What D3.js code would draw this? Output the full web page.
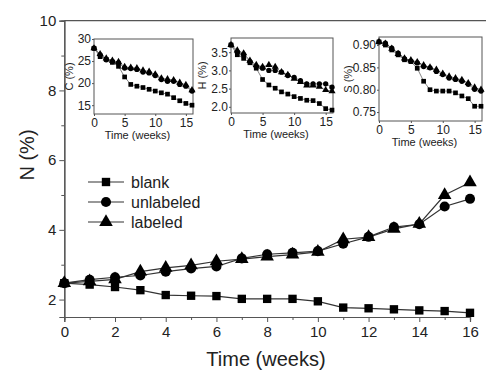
<!DOCTYPE html>
<html>
<head>
<meta charset="utf-8">
<script src="https://cdn.jsdelivr.net/npm/d3@7"></script>
<style>
  body { margin: 0; background: #fff; }
  svg { display: block; font-family: "Liberation Sans", Arial, sans-serif; }
</style>
</head>
<body>
<svg id="chart" width="486" height="372"></svg>
<script>
// weeks 0..16
const weeks = d3.range(0, 17);

// main panel: N (%)
const nBlank = [2.47, 2.43, 2.36, 2.27, 2.13, 2.11, 2.10, 2.02, 2.02, 2.02, 1.95, 1.77, 1.75, 1.72, 1.69, 1.67, 1.62];
const nUnlabeled = [2.47, 2.57, 2.64, 2.69, 2.80, 2.89, 2.95, 3.18, 3.30, 3.34, 3.39, 3.60, 3.80, 4.08, 4.16, 4.67, 4.89];
const nLabeled = [2.47, 2.52, 2.58, 2.80, 2.91, 2.98, 3.10, 3.16, 3.23, 3.29, 3.37, 3.73, 3.79, 4.03, 4.17, 5.00, 5.36];

// inset C (%)
const cBlank = [27.9, 26.0, 25.4, 24.7, 23.8, 21.4, 19.7, 19.3, 19.0, 18.6, 18.2, 17.8, 17.5, 16.7, 16.0, 15.4, 15.0];
const cUnlabeled = [27.9, 26.4, 25.3, 24.9, 24.6, 23.4, 23.3, 23.1, 22.5, 22.3, 21.7, 20.8, 20.4, 20.4, 19.7, 19.3, 18.2];
const cLabeled = [27.9, 26.6, 25.6, 25.1, 24.8, 23.7, 23.5, 23.4, 22.9, 22.6, 22.0, 21.1, 20.9, 20.7, 20.1, 19.6, 18.4];

// inset H (%)
const hBlank = [3.70, 3.43, 3.33, 3.21, 3.06, 2.75, 2.60, 2.51, 2.41, 2.35, 2.28, 2.23, 2.18, 2.17, 2.09, 1.95, 1.91];
const hUnlabeled = [3.70, 3.50, 3.43, 3.24, 3.10, 3.06, 3.00, 3.00, 2.95, 2.86, 2.81, 2.72, 2.63, 2.63, 2.63, 2.63, 2.54];
const hLabeled = [3.70, 3.55, 3.47, 3.27, 3.15, 3.10, 3.15, 3.10, 2.95, 2.88, 2.77, 2.68, 2.59, 2.59, 2.55, 2.46, 2.43];

// inset S (%)
const sBlank = [0.907, 0.900, 0.889, 0.878, 0.867, 0.863, 0.848, 0.819, 0.800, 0.797, 0.797, 0.797, 0.793, 0.786, 0.780, 0.763, 0.763];
const sUnlabeled = [0.907, 0.904, 0.893, 0.882, 0.869, 0.864, 0.860, 0.852, 0.849, 0.841, 0.834, 0.826, 0.823, 0.819, 0.812, 0.801, 0.797];
const sLabeled = [0.907, 0.903, 0.892, 0.880, 0.870, 0.866, 0.862, 0.855, 0.850, 0.845, 0.836, 0.830, 0.826, 0.822, 0.815, 0.805, 0.800];

const seriesNames = ['blank', 'unlabeled', 'labeled'];
const symbolFor = { blank: d3.symbolSquare, unlabeled: d3.symbolCircle, labeled: d3.symbolTriangle };

const svg = d3.select('#chart');
const lineCol = '#333';
const frameCol = '#555';

// ---- main panel ----
const x = d3.scaleLinear().domain([0, 16]).range([64.3, 470]);
const y = d3.scaleLinear().domain([1.5, 10]).range([317, 20.7]);

// frame (right side runs off the picture)
svg.append('path')
  .attr('d', `M${x(0)},${y(10)}H490V${y(1.5)}`)
  .attr('fill', 'none').attr('stroke', frameCol).attr('stroke-width', 1.2);

const xAxis = svg.append('g')
  .attr('transform', `translate(0,${y(1.5)})`)
  .call(d3.axisBottom(x).tickValues(d3.range(0, 17, 2)).tickSize(5).tickPadding(4));
svg.append('g')
  .attr('transform', `translate(0,${y(1.5)})`)
  .call(d3.axisBottom(x).tickValues(d3.range(1, 17, 2)).tickSize(3).tickFormat(''));

const yAxis = svg.append('g')
  .attr('transform', `translate(${x(0)},0)`)
  .call(d3.axisLeft(y).tickValues([2, 4, 6, 8, 10]).tickSize(5).tickPadding(3));
svg.append('g')
  .attr('transform', `translate(${x(0)},0)`)
  .call(d3.axisLeft(y).tickValues([3, 5, 7, 9]).tickSize(3).tickFormat(''));

svg.selectAll('.domain').attr('stroke', frameCol).attr('stroke-width', 1.2);
svg.selectAll('.tick line').attr('stroke', frameCol);
xAxis.selectAll('text').style('font-size', '15px').attr('fill', '#222');
yAxis.selectAll('text').style('font-size', '15px').attr('fill', '#222');

svg.append('text')
  .attr('x', 266).attr('y', 366)
  .attr('text-anchor', 'middle')
  .style('font-size', '20px').attr('fill', '#222')
  .text('Time (weeks)');
svg.append('text')
  .attr('transform', 'translate(34,155) rotate(-90)')
  .attr('text-anchor', 'middle')
  .style('font-size', '20px').attr('fill', '#222')
  .text('N (%)');

const mainData = { blank: nBlank, unlabeled: nUnlabeled, labeled: nLabeled };
const mainLine = d3.line().x((d, i) => x(weeks[i])).y(d => y(d));

seriesNames.forEach(name => {
  svg.append('path')
    .datum(mainData[name])
    .attr('d', mainLine)
    .attr('fill', 'none').attr('stroke', lineCol).attr('stroke-width', 1.2);
});
seriesNames.forEach(name => {
  const sz = name === 'labeled' ? 80 : (name === 'blank' ? 70 : 80);
  svg.append('g').selectAll('path')
    .data(mainData[name])
    .join('path')
    .attr('transform', (d, i) => `translate(${x(weeks[i])},${y(d)})`)
    .attr('d', d3.symbol(symbolFor[name], sz))
    .attr('fill', '#000');
});

// legend
const legend = svg.append('g');
seriesNames.forEach((name, i) => {
  const ly = 182 + i * 20;
  legend.append('line')
    .attr('x1', 88).attr('x2', 124).attr('y1', ly).attr('y2', ly)
    .attr('stroke', lineCol).attr('stroke-width', 1.2);
  legend.append('path')
    .attr('transform', `translate(106,${ly})`)
    .attr('d', d3.symbol(symbolFor[name], name === 'blank' ? 70 : 80))
    .attr('fill', '#000');
  legend.append('text')
    .attr('x', 131).attr('y', ly + 6)
    .style('font-size', '16px').attr('fill', '#222')
    .text(name);
});

// ---- insets ----
const insets = [
  { label: 'C (%)', box: [94, 193, 39, 114], dom: [13, 30], ticks: [15, 20, 25, 30], fmt: d3.format('d'),
    data: { blank: cBlank, unlabeled: cUnlabeled, labeled: cLabeled }, labX: 73 },
  { label: 'H (%)', box: [231, 333, 38, 113], dom: [1.83, 3.89], ticks: [2.0, 2.5, 3.0, 3.5], fmt: d3.format('.1f'),
    data: { blank: hBlank, unlabeled: hUnlabeled, labeled: hLabeled }, labX: 206 },
  { label: 'S (%)', box: [379, 482, 37, 121], dom: [0.73, 0.918], ticks: [0.75, 0.80, 0.85, 0.90], fmt: d3.format('.2f'),
    data: { blank: sBlank, unlabeled: sUnlabeled, labeled: sLabeled }, labX: 352 }
];

insets.forEach(ins => {
  const [x0, x1, y0, y1] = ins.box;
  const g = svg.append('g');
  const ix = d3.scaleLinear().domain([0, 16]).range([x0, x1 - 1]);
  const iy = d3.scaleLinear().domain(ins.dom).range([y1, y0]);

  g.append('rect')
    .attr('x', x0).attr('y', y0).attr('width', x1 - x0).attr('height', y1 - y0)
    .attr('fill', '#fff').attr('stroke', frameCol).attr('stroke-width', 1);

  const ax = g.append('g')
    .attr('transform', `translate(0,${y1})`)
    .call(d3.axisBottom(ix).tickValues([0, 5, 10, 15]).tickSize(2).tickPadding(2));
  const ay = g.append('g')
    .attr('transform', `translate(${x0},0)`)
    .call(d3.axisLeft(iy).tickValues(ins.ticks).tickFormat(ins.fmt).tickSize(2).tickPadding(1));
  [ax, ay].forEach(a => {
    a.select('.domain').remove();
    a.selectAll('.tick line').attr('stroke', frameCol);
    a.selectAll('text').style('font-size', '12px').attr('fill', '#222');
  });

  g.append('text')
    .attr('x', (x0 + x1) / 2 - 6).attr('y', y1 + 25)
    .attr('text-anchor', 'middle')
    .style('font-size', '11px').attr('fill', '#222')
    .text('Time (weeks)');
  g.append('text')
    .attr('transform', `translate(${ins.labX},${(y0 + y1) / 2}) rotate(-90)`)
    .attr('text-anchor', 'middle')
    .style('font-size', '11px').attr('fill', '#222')
    .text(ins.label);

  const il = d3.line().x((d, i) => ix(weeks[i])).y(d => iy(d));
  seriesNames.forEach(name => {
    g.append('path')
      .datum(ins.data[name])
      .attr('d', il)
      .attr('fill', 'none').attr('stroke', '#666').attr('stroke-width', 0.8);
  });
  seriesNames.forEach(name => {
    g.append('g').selectAll('path')
      .data(ins.data[name])
      .join('path')
      .attr('transform', (d, i) => `translate(${ix(weeks[i])},${iy(d)})`)
      .attr('d', d3.symbol(symbolFor[name], 22))
      .attr('fill', '#000');
  });
});
</script>
</body>
</html>
